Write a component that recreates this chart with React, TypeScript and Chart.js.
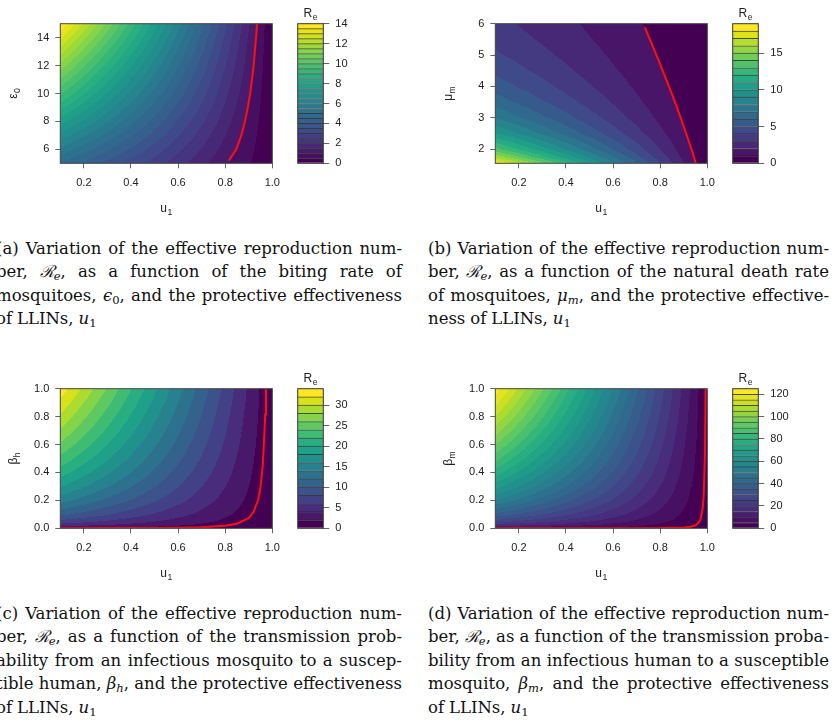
import React, { useEffect, useRef } from "react";
import { Chart, registerables } from "chart.js";
Chart.register(...registerables);

Chart.defaults.font.family = '"Liberation Sans", Arial, Helvetica, sans-serif';
Chart.defaults.font.size = 11;
Chart.defaults.color = "#222";

// ---------------- data ----------------
// u1 sample columns shared by all four fields
const U1 = [0.1, 0.2, 0.3, 0.4, 0.5, 0.6, 0.7, 0.8, 0.9, 1.0];
const U1_TICKS = [0.2, 0.4, 0.6, 0.8, 1.0];

// (a) biting rate epsilon_0
const EPS0 = [5, 7.5, 10, 12.5, 15];
const RE_EPS0 = [
  [4.95, 4.4, 3.85, 3.3, 2.75, 2.2, 1.65, 1.1, 0.55, 0],
  [7.31, 6.5, 5.68, 4.87, 4.06, 3.25, 2.44, 1.62, 0.81, 0],
  [9.59, 8.52, 7.46, 6.39, 5.33, 4.26, 3.2, 2.13, 1.07, 0],
  [11.78, 10.47, 9.16, 7.85, 6.55, 5.24, 3.93, 2.62, 1.31, 0],
  [13.97, 12.42, 10.87, 9.32, 7.76, 6.21, 4.66, 3.11, 1.55, 0],
];
const EPS0_TICKS = [6, 8, 10, 12, 14];
const RED_A_U1 = [0.815, 0.8475, 0.8685, 0.884, 0.896, 0.906, 0.914, 0.921, 0.926, 0.931, 0.9356];
const RED_A_EPS0 = [5.2, 6, 7, 8, 9, 10, 11, 12, 13, 14, 15];
const KEY_A_TICKS = [0, 2, 4, 6, 8, 10, 12, 14];

// (b) natural death rate mu_m
const MU_M = [1.55, 1.75, 2, 2.5, 3, 3.5, 4, 4.5, 5, 5.5, 6];
const RE_MU_M = [
  [18.45, 16.4, 14.35, 12.3, 10.25, 8.2, 6.15, 4.1, 2.05, 0],
  [15.81, 14.06, 12.3, 10.54, 8.79, 7.03, 5.27, 3.51, 1.76, 0],
  [13.35, 11.86, 10.38, 8.9, 7.42, 5.93, 4.45, 2.97, 1.48, 0],
  [10.05, 8.94, 7.82, 6.7, 5.59, 4.47, 3.35, 2.23, 1.12, 0],
  [7.97, 7.09, 6.2, 5.32, 4.43, 3.54, 2.66, 1.77, 0.89, 0],
  [6.56, 5.83, 5.1, 4.37, 3.65, 2.92, 2.19, 1.46, 0.73, 0],
  [5.54, 4.92, 4.31, 3.69, 3.08, 2.46, 1.85, 1.23, 0.62, 0],
  [4.77, 4.24, 3.71, 3.18, 2.65, 2.12, 1.59, 1.06, 0.53, 0],
  [4.17, 3.7, 3.24, 2.78, 2.32, 1.85, 1.39, 0.93, 0.46, 0],
  [3.69, 3.28, 2.87, 2.46, 2.05, 1.64, 1.23, 0.82, 0.41, 0],
  [3.3, 2.94, 2.57, 2.2, 1.84, 1.47, 1.1, 0.73, 0.37, 0],
];
const MU_M_TICKS = [2, 3, 4, 5, 6];
const RED_B_U1 = [0.735, 0.756, 0.784, 0.811, 0.837, 0.863, 0.887, 0.91, 0.933, 0.943, 0.951];
const RED_B_MU = [5.88, 5.5, 5, 4.5, 4, 3.5, 3, 2.5, 2, 1.75, 1.55];
const KEY_B_TICKS = [0, 5, 10, 15];

// (c) beta_h and (d) beta_m share the row samples
const BETA = [0, 0.0025, 0.01, 0.025, 0.05, 0.1, 0.2, 0.3, 0.4, 0.5, 0.6, 0.7, 0.8, 0.9, 1.0];
const BETA_TICKS = [0, 0.2, 0.4, 0.6, 0.8, 1.0];

const RE_BETA_H = [
  [0, 0, 0, 0, 0, 0, 0, 0, 0, 0],
  [1.66, 1.48, 1.29, 1.11, 0.92, 0.74, 0.55, 0.37, 0.18, 0],
  [3.32, 2.95, 2.58, 2.21, 1.85, 1.48, 1.11, 0.74, 0.37, 0],
  [5.25, 4.67, 4.08, 3.5, 2.92, 2.33, 1.75, 1.17, 0.58, 0],
  [7.43, 6.6, 5.78, 4.95, 4.13, 3.3, 2.48, 1.65, 0.83, 0],
  [10.5, 9.33, 8.17, 7.0, 5.83, 4.67, 3.5, 2.33, 1.17, 0],
  [14.85, 13.2, 11.55, 9.9, 8.25, 6.6, 4.95, 3.3, 1.65, 0],
  [18.19, 16.17, 14.15, 12.13, 10.11, 8.08, 6.06, 4.04, 2.02, 0],
  [21.0, 18.67, 16.34, 14.0, 11.67, 9.34, 7.0, 4.67, 2.33, 0],
  [23.48, 20.87, 18.26, 15.66, 13.05, 10.44, 7.83, 5.22, 2.61, 0],
  [25.72, 22.87, 20.01, 17.15, 14.29, 11.43, 8.57, 5.72, 2.86, 0],
  [27.79, 24.7, 21.61, 18.52, 15.44, 12.35, 9.26, 6.17, 3.09, 0],
  [29.7, 26.4, 23.1, 19.8, 16.5, 13.2, 9.9, 6.6, 3.3, 0],
  [31.51, 28.01, 24.5, 21.0, 17.5, 14.0, 10.5, 7.0, 3.5, 0],
  [33.21, 29.52, 25.83, 22.14, 18.45, 14.76, 11.07, 7.38, 3.69, 0],
];
const RED_C_U1 = [0.1, 0.3, 0.5, 0.6, 0.7, 0.8, 0.85, 0.9, 0.92, 0.94, 0.95, 0.96, 0.97, 0.973];
const RED_C_BETA = [0.0009, 0.0015, 0.0029, 0.0046, 0.0082, 0.0184, 0.0326, 0.0734, 0.1148, 0.204, 0.294, 0.459, 0.816, 1.0];
const KEY_C_TICKS = [0, 5, 10, 15, 20, 25, 30];

const RE_BETA_M = [
  [0, 0, 0, 0, 0, 0, 0, 0, 0, 0],
  [6.15, 5.47, 4.78, 4.1, 3.42, 2.73, 2.05, 1.37, 0.68, 0],
  [12.3, 10.94, 9.57, 8.2, 6.84, 5.47, 4.1, 2.73, 1.37, 0],
  [19.45, 17.29, 15.13, 12.97, 10.81, 8.64, 6.48, 4.32, 2.16, 0],
  [27.51, 24.46, 21.4, 18.34, 15.29, 12.23, 9.17, 6.11, 3.06, 0],
  [38.91, 34.58, 30.26, 25.94, 21.62, 17.29, 12.97, 8.65, 4.32, 0],
  [55.02, 48.9, 42.79, 36.68, 30.57, 24.45, 18.34, 12.23, 6.11, 0],
  [67.38, 59.9, 52.41, 44.92, 37.44, 29.95, 22.46, 14.97, 7.49, 0],
  [77.81, 69.17, 60.52, 51.88, 43.23, 34.58, 25.94, 17.29, 8.65, 0],
  [86.99, 77.33, 67.66, 58.0, 48.33, 38.66, 29.0, 19.33, 9.67, 0],
  [95.3, 84.71, 74.12, 63.53, 52.95, 42.36, 31.77, 21.18, 10.59, 0],
  [102.93, 91.5, 80.06, 68.62, 57.19, 45.75, 34.31, 22.87, 11.44, 0],
  [110.04, 97.82, 85.59, 73.36, 61.14, 48.91, 36.68, 24.45, 12.23, 0],
  [116.71, 103.74, 90.78, 77.81, 64.84, 51.87, 38.9, 25.94, 12.97, 0],
  [123.03, 109.36, 95.69, 82.02, 68.35, 54.68, 41.01, 27.34, 13.67, 0],
];
const RED_D_U1 = [0.1, 0.5, 0.8, 0.9, 0.93, 0.95, 0.96, 0.97, 0.98, 0.985, 0.99, 0.9927];
const RED_D_BETA = [0.0001, 0.0002, 0.0013, 0.0054, 0.0109, 0.0214, 0.0334, 0.0595, 0.134, 0.238, 0.535, 1.0];
const KEY_D_TICKS = [0, 20, 40, 60, 80, 100, 120];

// ---------------- helpers ----------------
const VIRIDIS = [
  "#440154", "#48186a", "#472d7b", "#424086", "#3b528b", "#33638d", "#2c728e", "#26828e", "#21918c",
  "#1fa088", "#28ae80", "#3fbc73", "#5ec962", "#84d44b", "#addc30", "#d8e219", "#fde725",
];
const hex = (h: string) => [parseInt(h.slice(1, 3), 16), parseInt(h.slice(3, 5), 16), parseInt(h.slice(5, 7), 16)];
const VIR_RGB = VIRIDIS.map(hex);
function viridis(t: number): number[] {
  const s = Math.max(0, Math.min(1, t)) * (VIR_RGB.length - 1);
  const i = Math.min(VIR_RGB.length - 2, Math.floor(s));
  const f = s - i;
  return [0, 1, 2].map((k) => Math.round(VIR_RGB[i][k] * (1 - f) + VIR_RGB[i + 1][k] * f));
}
function bandColors(n: number) {
  return Array.from({ length: n }, (_, i) => viridis(n === 1 ? 0 : i / (n - 1)));
}
function makeInterp(xs: number[], ys: number[], grid: number[][]) {
  return (x: number, y: number) => {
    let i = 0;
    while (i < xs.length - 2 && x > xs[i + 1]) i++;
    let j = 0;
    while (j < ys.length - 2 && y > ys[j + 1]) j++;
    const tx = Math.max(0, Math.min(1, (x - xs[i]) / (xs[i + 1] - xs[i])));
    const ty = Math.max(0, Math.min(1, (y - ys[j]) / (ys[j + 1] - ys[j])));
    const a = grid[j][i] * (1 - tx) + grid[j][i + 1] * tx;
    const b = grid[j + 1][i] * (1 - tx) + grid[j + 1][i + 1] * tx;
    return a * (1 - ty) + b * ty;
  };
}
const FONT = '"Liberation Sans", Arial, Helvetica, sans-serif';
function drawSub(ctx: CanvasRenderingContext2D, base: string, sub: string, x: number, y: number, size: number, rotate: boolean) {
  ctx.save();
  ctx.translate(x, y);
  if (rotate) ctx.rotate(-Math.PI / 2);
  const bf = `${size}px ${FONT}`;
  const sf = `${size * 0.72}px ${FONT}`;
  ctx.font = bf;
  const bw = ctx.measureText(base).width;
  ctx.font = sf;
  const sw = ctx.measureText(sub).width;
  const tot = bw + sw + 0.5;
  ctx.fillStyle = "#222";
  ctx.textAlign = "left";
  ctx.textBaseline = "alphabetic";
  ctx.font = bf;
  ctx.fillText(base, -tot / 2, 0);
  ctx.font = sf;
  ctx.fillText(sub, -tot / 2 + bw + 0.5, size * 0.3);
  ctx.restore();
}

type PanelSpec = {
  id: string; ox: number; oy: number; rows: number[]; grid: number[][];
  yMin: number; yMax: number; yTicks: number[]; yDec: number; yTitle: [string, string];
  redU: number[]; redP: number[]; step: number; max: number; keyTicks: number[];
};

const PANELS: PanelSpec[] = [
  { id: "a", ox: 0, oy: 0, rows: EPS0, grid: RE_EPS0, yMin: 5, yMax: 15, yTicks: EPS0_TICKS, yDec: 0, yTitle: ["ε", "0"], redU: RED_A_U1, redP: RED_A_EPS0, step: 0.5, max: 14, keyTicks: KEY_A_TICKS },
  { id: "b", ox: 435, oy: 0, rows: MU_M, grid: RE_MU_M, yMin: 1.55, yMax: 6, yTicks: MU_M_TICKS, yDec: 0, yTitle: ["μ", "m"], redU: RED_B_U1, redP: RED_B_MU, step: 1, max: 19, keyTicks: KEY_B_TICKS },
  { id: "c", ox: 0, oy: 365, rows: BETA, grid: RE_BETA_H, yMin: 0, yMax: 1, yTicks: BETA_TICKS, yDec: 1, yTitle: ["β", "h"], redU: RED_C_U1, redP: RED_C_BETA, step: 2, max: 34, keyTicks: KEY_C_TICKS },
  { id: "d", ox: 435, oy: 365, rows: BETA, grid: RE_BETA_M, yMin: 0, yMax: 1, yTicks: BETA_TICKS, yDec: 1, yTitle: ["β", "m"], redU: RED_D_U1, redP: RED_D_BETA, step: 5, max: 125, keyTicks: KEY_D_TICKS },
];

// layout (panel-local)
const MAIN_W = 292, MAIN_H = 225, PL = 60.3, PR = 272.3, PT = 23.7, PB = 163.3, YW = 40, XH = 30;
const KEY_X = 280, KEY_W = 90, KEY_H = 185, KL = 297.7, KR = 323.3, KYW = 40;

function Panel({ p }: { p: PanelSpec }) {
  const mainRef = useRef<HTMLCanvasElement>(null);
  const keyRef = useRef<HTMLCanvasElement>(null);
  useEffect(() => {
    const interp = makeInterp(U1, p.rows, p.grid);
    const nb = Math.round(p.max / p.step);
    const cols = bandColors(nb);
    const contour = {
      id: "contour" + p.id,
      beforeDatasetsDraw(chart: any) {
        const { ctx, chartArea: a, scales } = chart;
        const xs = scales.x, ys = scales.y;
        const x0 = Math.floor(a.left), y0 = Math.floor(a.top);
        const w = Math.ceil(a.right) - x0, h = Math.ceil(a.bottom) - y0;
        const off = document.createElement("canvas");
        off.width = w; off.height = h;
        const octx = off.getContext("2d")!;
        const img = octx.createImageData(w, h);
        for (let j = 0; j < h; j++) {
          const yv = ys.getValueForPixel(y0 + j + 0.5);
          for (let i = 0; i < w; i++) {
            const xv = xs.getValueForPixel(x0 + i + 0.5);
            const z = interp(xv, yv);
            let b = Math.floor(z / p.step + 1e-9);
            if (b < 0) b = 0;
            if (b > nb - 1) b = nb - 1;
            const c = cols[b];
            const k = (j * w + i) * 4;
            img.data[k] = c[0]; img.data[k + 1] = c[1]; img.data[k + 2] = c[2]; img.data[k + 3] = 255;
          }
        }
        octx.putImageData(img, 0, 0);
        ctx.save();
        ctx.beginPath();
        ctx.rect(a.left, a.top, a.right - a.left, a.bottom - a.top);
        ctx.clip();
        ctx.drawImage(off, x0, y0);
        ctx.restore();
      },
      afterDraw(chart: any) {
        const { ctx, chartArea: a } = chart;
        ctx.save();
        ctx.strokeStyle = "#444";
        ctx.lineWidth = 1;
        ctx.strokeRect(a.left, a.top, a.right - a.left, a.bottom - a.top);
        ctx.restore();
        drawSub(ctx, "u", "1", (a.left + a.right) / 2, a.bottom + 48.5, 12, false);
        drawSub(ctx, p.yTitle[0], p.yTitle[1], a.left - 43.5, (a.top + a.bottom) / 2, 12, true);
      },
    };
    const main = new Chart(mainRef.current!, {
      type: "scatter",
      data: {
        datasets: [
          {
            data: p.redU.map((u, i) => ({ x: u, y: p.redP[i] })),
            showLine: true,
            borderColor: "#ff1010",
            borderWidth: 2,
            pointRadius: 0,
            tension: 0,
          },
        ],
      },
      options: {
        animation: false,
        responsive: false,
        events: [],
        layout: { padding: { left: PL - YW, right: MAIN_W - PR, top: PT, bottom: MAIN_H - PB - XH } },
        plugins: { legend: { display: false }, tooltip: { enabled: false } },
        scales: {
          x: {
            type: "linear", min: 0.1, max: 1.0,
            afterBuildTicks: (s: any) => { s.ticks = U1_TICKS.map((v) => ({ value: v })); },
            afterFit: (s: any) => { s.height = XH; },
            grid: { drawOnChartArea: false, drawTicks: true, tickLength: 5, color: "#666" },
            border: { display: false },
            ticks: { padding: 8, color: "#222", callback: (v: any) => Number(v).toFixed(1) },
          },
          y: {
            type: "linear", min: p.yMin, max: p.yMax,
            afterBuildTicks: (s: any) => { s.ticks = p.yTicks.map((v) => ({ value: v })); },
            afterFit: (s: any) => { s.width = YW; },
            grid: { drawOnChartArea: false, drawTicks: true, tickLength: 5, color: "#666" },
            border: { display: false },
            ticks: { padding: 6, color: "#222", callback: (v: any) => Number(v).toFixed(p.yDec) },
          },
        },
      } as any,
      plugins: [contour],
    });

    const keyBox = {
      id: "keybox" + p.id,
      afterDraw(chart: any) {
        const { ctx, chartArea: a } = chart;
        ctx.save();
        ctx.strokeStyle = "#333";
        ctx.lineWidth = 1;
        ctx.strokeRect(a.left, a.top, a.right - a.left, a.bottom - a.top);
        ctx.restore();
        drawSub(ctx, "R", "e", (a.left + a.right) / 2, a.top - 7, 12, false);
      },
    };
    const bands = Array.from({ length: nb }, (_, i) => i);
    const key = new Chart(keyRef.current!, {
      type: "bar",
      data: {
        labels: ["Re"],
        datasets: bands.map((i) => ({
          data: [p.step],
          backgroundColor: `rgb(${cols[i][0]},${cols[i][1]},${cols[i][2]})`,
          borderColor: "rgba(0,0,0,0.7)",
          borderWidth: { top: i === nb - 1 ? 0 : 1, left: 0, right: 0, bottom: 0 },
          borderSkipped: false,
          barPercentage: 1,
          categoryPercentage: 1,
        })),
      },
      options: {
        animation: false,
        responsive: false,
        events: [],
        layout: { padding: { left: KL - KEY_X, right: KEY_W - (KR - KEY_X) - KYW, top: PT, bottom: KEY_H - PB } },
        plugins: { legend: { display: false }, tooltip: { enabled: false } },
        scales: {
          x: { stacked: true, display: false },
          y: {
            stacked: true, position: "right", min: 0, max: p.max,
            afterBuildTicks: (s: any) => { s.ticks = p.keyTicks.map((v) => ({ value: v })); },
            afterFit: (s: any) => { s.width = KYW; },
            grid: { drawOnChartArea: false, drawTicks: true, tickLength: 6, color: "#666" },
            border: { display: false },
            ticks: { padding: 6, color: "#222", callback: (v: any) => String(v) },
          },
        },
      } as any,
      plugins: [keyBox],
    });
    return () => { main.destroy(); key.destroy(); };
  }, []);
  return (
    <div style={{ position: "absolute", left: p.ox, top: p.oy, width: 380, height: 230 }}>
      <canvas ref={mainRef} width={MAIN_W} height={MAIN_H} style={{ position: "absolute", left: 0, top: 0, width: MAIN_W, height: MAIN_H }} />
      <canvas ref={keyRef} width={KEY_W} height={KEY_H} style={{ position: "absolute", left: KEY_X, top: 0, width: KEY_W, height: KEY_H }} />
    </div>
  );
}

// ---------------- captions ----------------
const CAP_A = [
  "(a) Variation of the effective reproduction num-",
  "ber, @RE, as a function of the biting rate of",
  "mosquitoes, @EPS0, and the protective effectiveness",
  "of LLINs, @U1",
];
const CAP_B = [
  "(b) Variation of the effective reproduction num-",
  "ber, @RE, as a function of the natural death rate",
  "of mosquitoes, @MUM, and the protective effective-",
  "ness of LLINs, @U1",
];
const CAP_C = [
  "(c) Variation of the effective reproduction num-",
  "ber, @RE, as a function of the transmission prob-",
  "ability from an infectious mosquito to a suscep-",
  "tible human, @BETAH, and the protective effectiveness",
  "of LLINs, @U1",
];
const CAP_D = [
  "(d) Variation of the effective reproduction num-",
  "ber, @RE, as a function of the transmission proba-",
  "bility from an infectious human to a susceptible",
  "mosquito, @BETAM, and the protective effectiveness",
  "of LLINs, @U1",
];

const subStyle: React.CSSProperties = { fontSize: "0.7em", verticalAlign: "-0.3em", lineHeight: 0, fontStyle: "normal" };
const subItal: React.CSSProperties = { ...subStyle, fontStyle: "italic" };
const MATH: Record<string, React.ReactNode> = {
  RE: (<span><span style={{ fontStyle: "italic" }}>ℛ</span><span style={subItal}>e</span></span>),
  EPS0: (<span><i>ϵ</i><span style={subStyle}>0</span></span>),
  MUM: (<span><i>μ</i><span style={subItal}>m</span></span>),
  BETAH: (<span><i>β</i><span style={subItal}>h</span></span>),
  BETAM: (<span><i>β</i><span style={subItal}>m</span></span>),
  U1: (<span><i>u</i><span style={subStyle}>1</span></span>),
};
function renderWord(w: string, k: number) {
  const parts = w.split(/@(RE|EPS0|MUM|BETAH|BETAM|U1)/);
  return (
    <span key={k}>
      {parts.map((s, i) => (i % 2 === 1 ? <React.Fragment key={i}>{MATH[s]}</React.Fragment> : s))}
    </span>
  );
}
function Caption({ lines, left, top, width }: { lines: string[]; left: number; top: number; width: number }) {
  return (
    <div style={{ position: "absolute", left, top, width, fontFamily: '"DejaVu Serif", "Liberation Serif", serif', fontSize: 16.5, color: "#111" }}>
      {lines.map((ln, i) => {
        const last = i === lines.length - 1;
        return (
          <div key={i} style={{ display: "flex", justifyContent: last ? "flex-start" : "space-between", gap: last ? "0.3em" : 0, height: 23.4, lineHeight: "23.4px", whiteSpace: "nowrap" }}>
            {ln.split(" ").map((w, k) => renderWord(w, k))}
          </div>
        );
      })}
    </div>
  );
}

export default function App() {
  return (
    <div style={{ position: "absolute", left: 0, top: 0, width: 832, height: 723, background: "#fff", overflow: "hidden" }}>
      {PANELS.map((p) => (
        <Panel key={p.id} p={p} />
      ))}
      <Caption lines={CAP_A} left={-4} top={237} width={406} />
      <Caption lines={CAP_B} left={428} top={237} width={401} />
      <Caption lines={CAP_C} left={-4} top={602} width={406} />
      <Caption lines={CAP_D} left={428} top={602} width={401} />
    </div>
  );
}
